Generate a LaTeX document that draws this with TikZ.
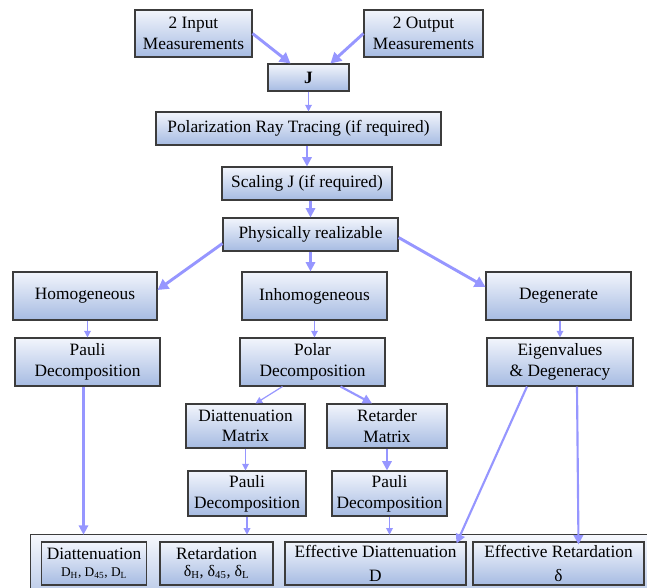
\documentclass[tikz,border=0pt]{standalone}
\usepackage{fontspec}
\setmainfont{Liberation Serif}
\usetikzlibrary{arrows.meta,calc}
\definecolor{boxtop}{RGB}{242,245,252}
\definecolor{boxbot}{RGB}{166,187,226}
\definecolor{flowblue}{RGB}{150,150,255}
\definecolor{boxline}{RGB}{60,60,60}

\begin{document}
\begin{tikzpicture}[
  x=0.75pt, y=-0.75pt,
  font=\fontsize{13}{15.5}\selectfont,
  dims/.style 2 args={minimum width=#1*0.75pt, minimum height=#2*0.75pt},
  box/.style={draw=boxline, line width=0.8pt, top color=boxtop, bottom color=boxbot, align=center, inner sep=1pt},
  res/.style={box, inner sep=0pt},
  panel/.style={top color=boxtop!70!white, bottom color=boxbot!70!white, inner sep=0pt},
  arrow/.style={-{Triangle[length=7pt,width=7pt]}, draw=flowblue, line width=1.6pt},
  heavy/.style={arrow, line width=2.2pt, -{Triangle[length=8pt,width=8.5pt]}},
  thinarrow/.style={-{Triangle[length=5pt,width=5pt]}, draw=flowblue, line width=0.9pt}
]
\useasboundingbox (0,0) rectangle (647,588);

\node[box, dims={117}{47}] (input) at (193.5,33.5) {2 Input\\Measurements};
\node[box, dims={119}{47}] (output) at (423.5,33.5) {2 Output\\Measurements};
\node[box, dims={81}{27}] (j) at (308.5,77.5) {\textbf{J}};
\node[box, dims={285}{33}] (prt) at (298.5,128.5) {Polarization Ray Tracing (if required)};
\node[box, dims={170}{33}] (scaling) at (307,183.5) {Scaling J (if required)};
\node[box, dims={175}{33}] (phys) at (310.5,234.5) {Physically realizable};

\node[box, dims={144}{48}] (hom) at (85,296) {Homogeneous};
\node[box, dims={145}{48}] (inhom) at (314.5,296) {Inhomogeneous};
\node[box, dims={145}{48}] (degen) at (558.5,296) {Degenerate};

\node[box, dims={145}{48}] (pauli1) at (87.5,362) {Pauli\\Decomposition};
\node[box, dims={145}{48}] (polar) at (312.5,362) {Polar\\Decomposition};
\node[box, dims={146}{48}] (eigen) at (560,362) {Eigenvalues\\\& Degeneracy};

\node[box, dims={119}{44}] (diattm) at (245.5,426) {Diattenuation\\Matrix};
\node[box, dims={120}{44}] (retm) at (387,426) {Retarder\\Matrix};
\node[box, dims={118}{45}] (pauli2) at (247,493.5) {Pauli\\Decomposition};
\node[box, dims={115}{45}] (pauli3) at (389.5,493.5) {Pauli\\Decomposition};

\node[panel, dims={616}{53}] (results) at (339,561.5) {};
\draw[boxline, line width=1pt] (results.south west) |- (results.north east);

\node[res, dims={105}{43}] (diatt) at (94,563.5) {Diattenuation\\[-3pt]{\fontsize{10}{12}\selectfont D\textsubscript{H}, D\textsubscript{45}, D\textsubscript{L}}};
\node[res, dims={113}{43}] (ret) at (216.5,563.5) {Retardation\\[-3pt]{\fontsize{12}{12}\selectfont δ\textsubscript{H}, δ\textsubscript{45}, δ\textsubscript{L}}};
\node[res, dims={181}{43}, font=\fontsize{13}{18}\selectfont] (effdiatt) at (375.5,563.5) {Effective Diattenuation\\D};
\node[res, dims={171}{43}, font=\fontsize{13}{18}\selectfont] (effret) at (558.5,563.5) {Effective Retardation\\δ};

\draw[heavy] (input.east) -- ($(j.north)+(-18,0)$);
\draw[heavy] (output.west) -- ($(j.north)+(22,0)$);
\draw[thinarrow] (j.south) -- (j.south |- prt.north);
\draw[arrow] (scaling.north |- prt.south) -- (scaling.north);
\draw[arrow] (phys.north |- scaling.south) -- (phys.north);
\draw[heavy] ($(phys.west)+(0,9)$) -- ($(hom.east)+(0,-6)$);
\draw[arrow] (phys.south) -- (phys.south |- inhom.north);
\draw[heavy] ($(phys.east)+(0,3)$) -- ($(degen.west)+(0,-9)$);

\draw[thinarrow] (pauli1.north |- hom.south) -- (pauli1.north);
\draw[thinarrow] (inhom.south) -- (inhom.south |- polar.north);
\draw[thinarrow] (eigen.north |- degen.south) -- (eigen.north);

\draw[thinarrow] ($(polar.south)+(-30,0)$) -- ($(diattm.north)+(10,0)$);
\draw[arrow] ($(polar.south)+(28,0)$) -- ($(retm.north)+(-15,0)$);
\draw[thinarrow] (diattm.south) -- (diattm.south |- pauli2.north);
\draw[arrow] (retm.south) -- (retm.south |- pauli3.north);

\draw[arrow] ($(pauli1.south)+(-4,0)$) -- ($(pauli1.south |- results.north)+(-4,0)$);
\draw[thinarrow] (pauli2.south) -- (pauli2.south |- results.north);
\draw[thinarrow] (pauli3.south) -- (pauli3.south |- results.north);
\draw[arrow] ($(eigen.south)+(-33,0)$) -- ($(effdiatt.north east)+(-10,2)$);
\draw[arrow] ($(eigen.south)+(17,0)$) -- ($(effret.north)+(20,3)$);

\end{tikzpicture}
\end{document}
